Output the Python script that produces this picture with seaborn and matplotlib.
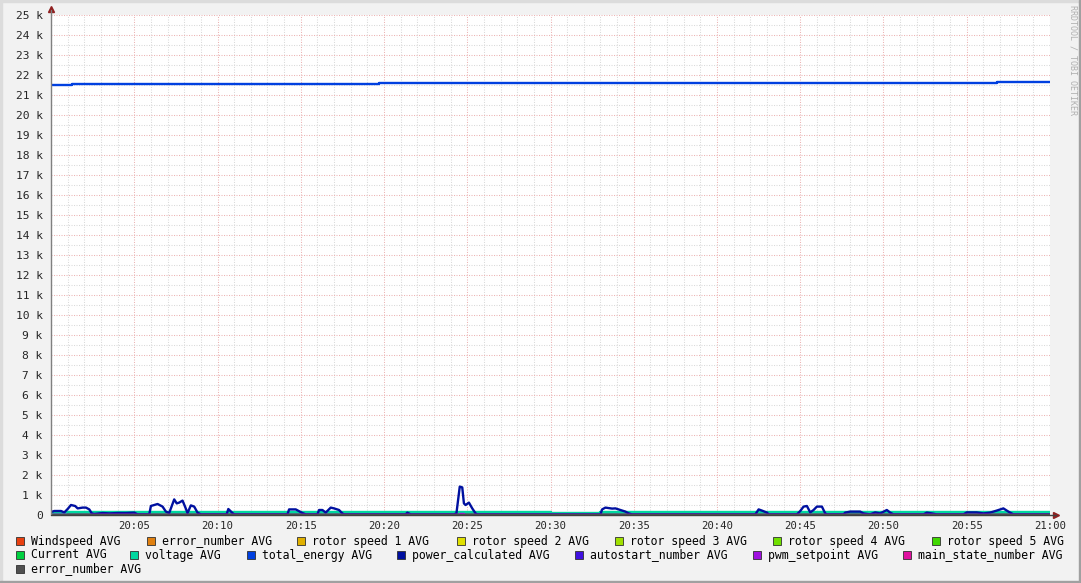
import numpy as np
import pandas as pd
import seaborn as sns
import matplotlib.pyplot as plt
from matplotlib.patches import Rectangle

sns.set_style('white')
plt.rcParams['font.family'] = ['DejaVu Sans Mono']

# time axis in minutes after 20:00
tick_minutes = list(range(0, 61, 5))
tick_labels = [''] + ['20:%02d' % m for m in range(5, 60, 5)] + ['21:00']
y_ticks = list(range(0, 25001, 1000))
y_labels = ['0'] + ['%d k' % k for k in range(1, 26)]

# total_energy AVG (step series)
energy_t = [0.0, 1.26, 19.7, 56.8, 60.0]
energy_v = [21500, 21550, 21600, 21650, 21650]

# power_calculated AVG
power_t = [0.0, 0.2, 0.6, 0.8, 1.0, 1.2, 1.45, 1.6, 1.9, 2.1, 2.3, 2.45, 2.6, 3.1, 3.5, 4.0,
           4.5, 5.0, 5.2, 5.9, 6.0, 6.4, 6.7, 6.9, 7.1, 7.2, 7.4, 7.55, 7.7, 7.9, 8.05, 8.2,
           8.4, 8.6, 8.8, 9.0, 10.55, 10.65, 10.9, 11.0, 14.2, 14.3, 14.7, 15.1, 15.3, 16.0,
           16.1, 16.3, 16.5, 16.8, 17.0, 17.3, 17.5, 17.6, 21.3, 21.4, 21.6, 24.2, 24.35,
           24.55, 24.7, 24.8, 24.9, 25.1, 25.3, 25.5, 25.6, 33.0, 33.1, 33.3, 33.7, 33.9,
           34.2, 34.5, 34.7, 34.9, 42.3, 42.5, 42.7, 43.0, 43.1, 44.8, 45.0, 45.2, 45.4,
           45.6, 45.8, 46.0, 46.3, 46.5, 46.6, 47.6, 47.7, 48.0, 48.6, 48.8, 49.2, 49.5,
           49.8, 50.2, 50.4, 50.6, 52.4, 52.6, 52.9, 53.2, 54.8, 55.0, 55.6, 56.0, 56.4,
           56.8, 57.2, 57.5, 57.8, 60.0]
power_v = [150, 200, 200, 130, 300, 500, 450, 330, 370, 370, 280, 80, 50, 100, 80, 100,
           100, 120, 30, 30, 450, 550, 420, 170, 100, 330, 780, 580, 620, 720, 420, 100,
           480, 420, 120, 30, 30, 300, 100, 30, 30, 280, 280, 100, 30, 30,
           250, 250, 120, 370, 330, 250, 80, 30, 30, 120, 30, 30, 80,
           1420, 1380, 580, 500, 620, 330, 80, 30, 30, 280, 370, 320, 330,
           250, 170, 80, 30, 30, 280, 220, 120, 30, 30, 200, 420, 450,
           130, 250, 420, 420, 80, 30, 30, 120, 170, 170, 80, 30, 130,
           80, 250, 120, 30, 30, 120, 80, 30, 30, 130, 130, 80, 120,
           220, 330, 170, 30, 30]

# voltage AVG (step series)
volt_t = [0.0, 0.9, 15.5, 17.5, 30.0, 32.6, 33.0, 37.2, 40.5, 45.0, 60.0]
volt_v = [120, 160, 140, 160, 90, 120, 160, 140, 160, 160, 160]

# Current AVG (step series)
curr_t = [0.0, 0.9, 30.0, 33.0, 60.0]
curr_v = [60, 100, 70, 100, 100]

# rotor speed 3 AVG (step series)
rotor3_t = [0.0, 8.4, 9.0, 20.4, 20.8, 23.3, 23.9, 28.4, 29.5, 33.3, 34.3, 35.6, 37.1,
            39.6, 41.4, 46.8, 47.6, 52.3, 52.7, 54.2, 55.3, 56.9, 57.6, 60.0]
rotor3_v = [0, 40, 0, 40, 0, 40, 0, 40, 0, 90, 0, 40, 0, 40, 0, 40, 0, 40, 0, 40, 0, 40, 0, 0]

# pwm_setpoint AVG
pwm_t = [0.0, 24.5, 24.55, 24.75, 24.8, 60.0]
pwm_v = [0, 0, 30, 30, 0, 0]

zero_t = [0.0, 60.0]
zero_v = [0, 0]

legend_names = ['Windspeed AVG', 'error_number AVG', 'rotor speed 1 AVG', 'rotor speed 2 AVG',
                'rotor speed 3 AVG', 'rotor speed 4 AVG', 'rotor speed 5 AVG',
                'Current AVG', 'voltage AVG', 'total_energy AVG', 'power_calculated AVG',
                'autostart_number AVG', 'pwm_setpoint AVG', 'main_state_number AVG',
                'error_number AVG']
legend_colors = ['#e84010', '#e08010', '#e0b000', '#e0e000', '#a0e000', '#70e000', '#40d800',
                 '#00d040', '#00d8a0', '#0040e0', '#0010a0', '#4010e0', '#a010e0', '#e010a0',
                 '#505050']
# legend layout (pixel positions of the colour boxes)
legend_x = [16, 147, 297, 457, 615, 773, 932, 16, 130, 247, 397, 575, 753, 903, 16]
legend_y = [541] * 7 + [555] * 7 + [569]

W, H = 1081, 583
fig = plt.figure(figsize=(W / 100, H / 100), dpi=100, facecolor='#f2f2f2')
ax = fig.add_axes([51 / W, 68 / H, 999 / W, 500 / H])
ax.set_facecolor('white')

series = {
    'Windspeed AVG': (zero_t, zero_v, 'default'),
    'error_number AVG': (zero_t, zero_v, 'default'),
    'rotor speed 1 AVG': (zero_t, zero_v, 'default'),
    'rotor speed 2 AVG': (zero_t, zero_v, 'default'),
    'rotor speed 3 AVG': (rotor3_t, rotor3_v, 'steps-post'),
    'rotor speed 4 AVG': (zero_t, zero_v, 'default'),
    'rotor speed 5 AVG': (zero_t, zero_v, 'default'),
    'Current AVG': (curr_t, curr_v, 'steps-post'),
    'voltage AVG': (volt_t, volt_v, 'steps-post'),
    'total_energy AVG': (energy_t, energy_v, 'steps-post'),
    'power_calculated AVG': (power_t, power_v, 'default'),
    'autostart_number AVG': (zero_t, zero_v, 'default'),
    'pwm_setpoint AVG': (pwm_t, pwm_v, 'steps-post'),
    'main_state_number AVG': (zero_t, zero_v, 'default'),
}
for i, name in enumerate(legend_names[:-1]):
    t, v, ds = series[name]
    sns.lineplot(x=t, y=v, ax=ax, color=legend_colors[i], lw=1.7, drawstyle=ds,
                 estimator=None, sort=False, zorder=3)
sns.lineplot(x=zero_t, y=zero_v, ax=ax, color=legend_colors[-1], lw=1.7,
             estimator=None, sort=False, zorder=3)

ax.set_xlim(0, 60)
ax.set_ylim(0, 25000)
ax.set_xticks(tick_minutes)
ax.set_xticklabels(tick_labels)
ax.set_xticks(np.arange(0, 61, 1), minor=True)
ax.set_yticks(y_ticks)
ax.set_yticklabels(y_labels)
ax.set_yticks(np.arange(0, 25001, 500), minor=True)
ax.set_axisbelow(True)
ax.grid(which='minor', color='#dadada', ls=(0, (1, 1.4)), lw=0.75)
ax.grid(which='major', color='#ecb4b4', ls=(0, (1, 1.4)), lw=0.75)
ax.tick_params(axis='x', which='major', length=2, color='#e0a0a0', pad=2, labelsize=7.7)
ax.tick_params(axis='x', which='minor', length=2, color='#c8c8c8')
ax.tick_params(axis='y', which='both', length=0, pad=6, labelsize=8.1)
for s in ax.spines.values():
    s.set_visible(False)

# axes with arrows
ax.plot([0, 0], [0, 1.01], transform=ax.transAxes, color='#808080', lw=1, clip_on=False, zorder=4)
ax.plot([0, 1.006], [0, 0], transform=ax.transAxes, color='#404040', lw=1, clip_on=False, zorder=4)
ax.plot([0], [1.012], marker='^', ms=5, color='#902020', transform=ax.transAxes, clip_on=False)
ax.plot([1.0065], [0], marker='>', ms=5, color='#902020', transform=ax.transAxes, clip_on=False)

# legend like rrdtool
for name, col, x, y in zip(legend_names, legend_colors, legend_x, legend_y):
    fig.patches.append(Rectangle((x / W, 1 - (y + 4) / H), 8 / W, 8 / H, transform=fig.transFigure,
                                 facecolor=col, edgecolor='#303030', lw=0.6))
    fig.text((x + 15) / W, 1 - y / H, name, fontsize=8.3, va='center', ha='left', color='black')

fig.text(1073 / W, 1 - 5 / H, 'RRDTOOL / TOBI OETIKER', rotation=270, va='top', ha='center',
         fontsize=6.0, color='#b0b0b0')

# 3d border
fig.patches.append(Rectangle((0, 1 - 2 / H), 1, 2 / H, transform=fig.transFigure, color='#dcdcdc'))
fig.patches.append(Rectangle((0, 0), 2 / W, 1, transform=fig.transFigure, color='#dcdcdc'))
fig.patches.append(Rectangle((0, 0), 1, 2 / H, transform=fig.transFigure, color='#a0a0a0'))
fig.patches.append(Rectangle((1 - 2 / W, 0), 2 / W, 1, transform=fig.transFigure, color='#a0a0a0'))

fig.savefig('out.png', dpi=100, facecolor=fig.get_facecolor())
